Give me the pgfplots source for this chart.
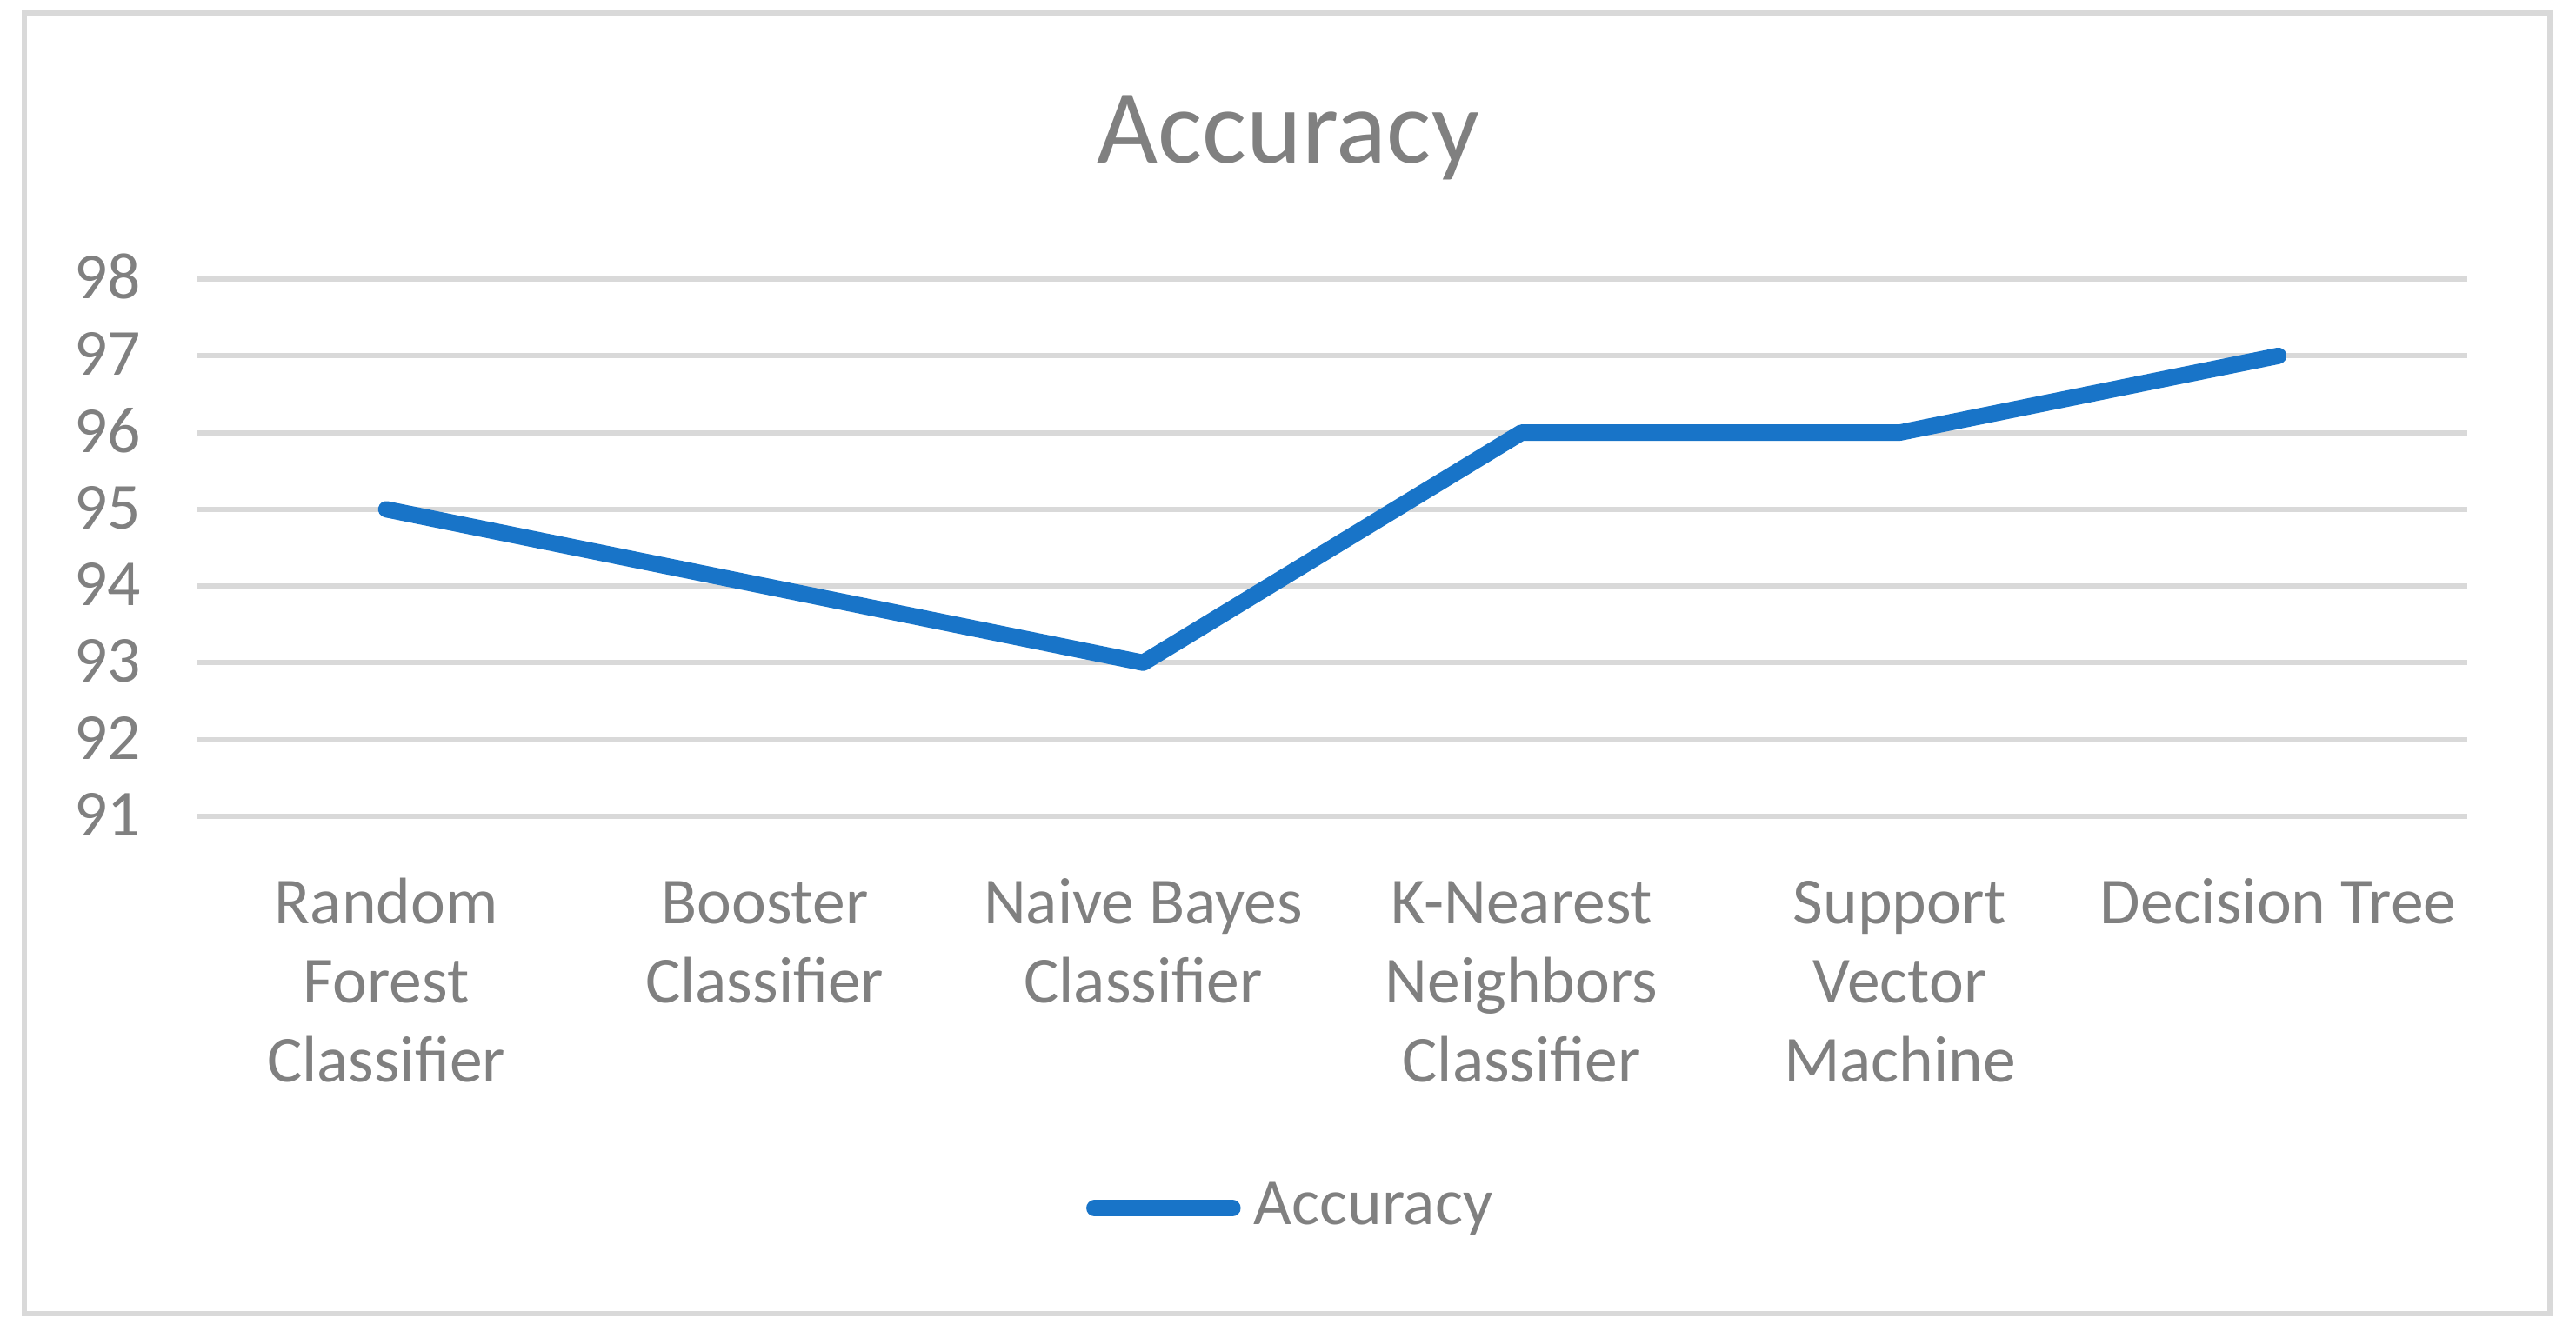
\documentclass[border=0pt]{standalone}
\usepackage{pgfplots}
\pgfplotsset{compat=1.18}
\usepackage{fontspec}
\setmainfont{Carlito}

\definecolor{linblue}{RGB}{24,116,200}
\definecolor{txtgray}{RGB}{128,128,128}
\definecolor{gridgray}{RGB}{217,217,217}

\begin{document}
\begin{tikzpicture}
% page size and outer frame
\path (0pt,0pt) rectangle (392pt,202.5pt);
\draw[gridgray, line width=0.8pt] (3.75pt,2.5pt) rectangle (388pt,200.5pt);

\begin{axis}[
    at={(30pt,78.25pt)},
    anchor=south west,
    scale only axis,
    width=345.5pt,
    height=81.75pt,
    xmin=-0.5, xmax=5.5,
    ymin=91, ymax=98,
    ytick={91,...,98},
    xtick={0,...,5},
    xticklabels={Random\\Forest\\Classifier, Booster\\Classifier, Naive Bayes\\Classifier,
                 K-Nearest\\Neighbors\\Classifier, Support\\Vector\\Machine, Decision Tree},
    axis line style={draw=none},
    tick style={draw=none},
    ymajorgrids,
    major grid style={gridgray, line width=0.8pt},
    /pgf/number format/assume math mode=true,
    typeset ticklabels with strut,
    ticklabel style={font=\fontsize{10}{12}\selectfont, text=txtgray},
    xticklabel style={align=center, yshift=-4.5pt},
    yticklabel style={xshift=-5pt, yshift=-0.6pt},
    legend style={at={(0.484,-0.73)}, anchor=center, draw=none, fill=none,
                  font=\fontsize{10}{12}\selectfont, text=txtgray, inner sep=0pt},
    legend image code/.code={\draw[#1, line cap=round] (0pt,0pt) -- (21pt,0pt);},
    legend cell align=left,
]
\addplot[linblue, line width=2.5pt, line cap=round, line join=round] coordinates {
    (0, 95)
    (1, 94)
    (2, 93)
    (3, 96)
    (4, 96)
    (5, 97)
};
\addlegendentry{Accuracy}
\end{axis}

\node[text=txtgray, font=\fontsize{16}{19}\selectfont] at (196pt,181.5pt) {Accuracy};
\end{tikzpicture}
\end{document}
